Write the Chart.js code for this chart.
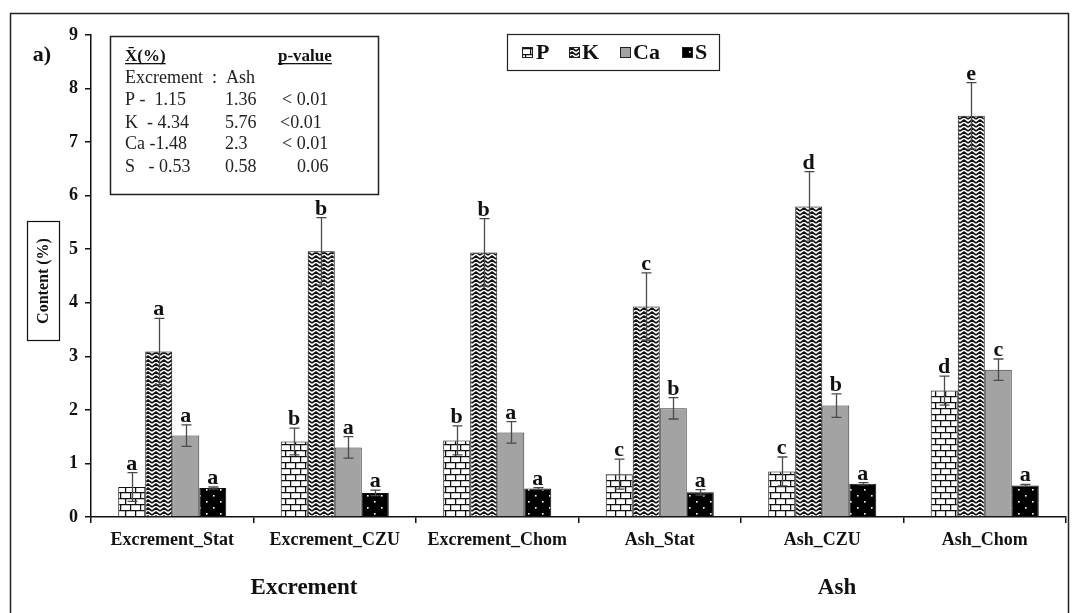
<!DOCTYPE html>
<html>
<head>
<meta charset="utf-8">
<script src="https://cdn.jsdelivr.net/npm/chart.js@4.4.1/dist/chart.umd.min.js"></script>
<style>
  html, body { margin: 0; padding: 0; background: #fff; }
  #wrap { width: 1078px; height: 613px; position: relative; }
</style>
</head>
<body>
<div id="wrap"><canvas id="c"></canvas></div>
<script>
// ---- data ----
const categories = ['Excrement_Stat', 'Excrement_CZU', 'Excrement_Chom', 'Ash_Stat', 'Ash_CZU', 'Ash_Chom'];
const seriesNames = ['P', 'K', 'Ca', 'S'];

const pValues  = [0.56, 1.41, 1.43, 0.80, 0.85, 2.36];
const kValues  = [3.09, 4.96, 4.94, 3.93, 5.80, 7.49];
const caValues = [1.52, 1.30, 1.58, 2.03, 2.08, 2.75];
const sValues  = [0.54, 0.45, 0.53, 0.46, 0.62, 0.59];

const pErr  = [0.27, 0.25, 0.27, 0.28, 0.27, 0.27];
const kErr  = [0.62, 0.63, 0.63, 0.63, 0.65, 0.62];
const caErr = [0.20, 0.20, 0.20, 0.20, 0.22, 0.20];
const sErr  = [0.02, 0.05, 0.02, 0.05, 0.02, 0.02];

const pLetters  = ['a', 'b', 'b', 'c', 'c', 'd'];
const kLetters  = ['a', 'b', 'b', 'c', 'd', 'e'];
const caLetters = ['a', 'a', 'a', 'b', 'b', 'c'];
const sLetters  = ['a', 'a', 'a', 'a', 'a', 'a'];

const yTicks = [0, 1, 2, 3, 4, 5, 6, 7, 8, 9];
const groupLabels = ['Excrement', 'Ash'];

// summary table: mean content (%) excrement vs ash and p-value
const statRowLabels = ['P -  1.15', 'K  - 4.34', 'Ca -1.48', 'S   - 0.53'];
const ashMeans      = ['1.36', '5.76', '2.3', '0.58'];
const pValueTexts   = ['< 0.01', '<0.01', '< 0.01', '0.06'];

// ---- fill patterns ----
const SERIF = '"Liberation Serif", "Times New Roman", serif';

function makeTile(w, h, draw) {
  const t = document.createElement('canvas');
  t.width = w; t.height = h;
  const g = t.getContext('2d');
  draw(g, w, h);
  return document.createElement('canvas').getContext('2d').createPattern(t, 'repeat');
}

const brickPattern = makeTile(10, 12, (g, w, h) => {
  g.fillStyle = '#fff'; g.fillRect(0, 0, w, h);
  g.strokeStyle = '#111'; g.lineWidth = 1.3;
  g.beginPath();
  g.moveTo(0, 0.6); g.lineTo(w, 0.6);
  g.moveTo(0, 6.6); g.lineTo(w, 6.6);
  g.moveTo(0.6, 0); g.lineTo(0.6, 6);
  g.moveTo(5.6, 6); g.lineTo(5.6, 12);
  g.stroke();
});

const zigzagPattern = makeTile(8, 8, (g, w, h) => {
  g.fillStyle = '#fff'; g.fillRect(0, 0, w, h);
  g.strokeStyle = '#111'; g.lineWidth = 1.6;
  g.beginPath();
  for (let y = -4; y <= 8; y += 4) {
    g.moveTo(0, y + 3); g.lineTo(4, y); g.lineTo(8, y + 3);
  }
  g.stroke();
  g.fillStyle = '#111';
  g.fillRect(3, 5, 2, 1);
});

const caFill = '#a3a3a3';

const dotPattern = makeTile(14, 12, (g, w, h) => {
  g.fillStyle = '#000'; g.fillRect(0, 0, w, h);
  g.fillStyle = '#fff';
  g.fillRect(3, 3, 1.6, 1.6);
  g.fillRect(10, 9, 1.6, 1.6);
});

const fills = [brickPattern, zigzagPattern, caFill, dotPattern];
const valueSets = [pValues, kValues, caValues, sValues];
const errSets = [pErr, kErr, caErr, sErr];
const letterSets = [pLetters, kLetters, caLetters, sLetters];

// ---- decorations: frame, error bars, letters, legend, table ----
const decor = {
  id: 'decor',
  beforeDraw(chart) {
    const ctx = chart.ctx;
    ctx.save();
    ctx.fillStyle = '#fff';
    ctx.fillRect(0, 0, chart.width, chart.height);
    ctx.restore();
  },
  afterDatasetsDraw(chart) {
    const ctx = chart.ctx;
    const y = chart.scales.y;
    ctx.save();
    // error bars
    chart.data.datasets.forEach((ds, di) => {
      const meta = chart.getDatasetMeta(di);
      meta.data.forEach((bar, i) => {
        const v = ds.data[i], e = errSets[di][i];
        const yt = y.getPixelForValue(v + e);
        const yb = y.getPixelForValue(v - e);
        const x = Math.round(bar.x) + 0.5;
        ctx.strokeStyle = '#4a4a4a';
        ctx.lineWidth = 1.3;
        ctx.beginPath();
        ctx.moveTo(x, yt); ctx.lineTo(x, yb);
        ctx.moveTo(x - 5, yt); ctx.lineTo(x + 5, yt);
        ctx.moveTo(x - 5, yb); ctx.lineTo(x + 5, yb);
        ctx.stroke();
        // significance letter
        ctx.fillStyle = '#111';
        ctx.font = 'bold 22px ' + SERIF;
        ctx.textAlign = 'center';
        ctx.textBaseline = 'alphabetic';
        ctx.fillText(letterSets[di][i], bar.x, yt - 3);
      });
    });
    ctx.restore();
  },
  afterDraw(chart) {
    const ctx = chart.ctx;
    ctx.save();
    // outer frame
    ctx.strokeStyle = '#222';
    ctx.lineWidth = 1.5;
    ctx.strokeRect(10.5, 13.5, 1058, 640);

    // panel tag
    ctx.fillStyle = '#111';
    ctx.font = 'bold 22px ' + SERIF;
    ctx.textAlign = 'center';
    ctx.textBaseline = 'middle';
    ctx.fillText('a)', 42, 55);

    // y-axis title in a box
    ctx.strokeStyle = '#111';
    ctx.lineWidth = 1.2;
    ctx.strokeRect(27.5, 221.5, 32, 119);
    ctx.save();
    ctx.translate(44, 281);
    ctx.rotate(-Math.PI / 2);
    ctx.font = 'bold 16px ' + SERIF;
    ctx.fillText('Content (%)', 0, 0);
    ctx.restore();

    // group labels under the categories
    ctx.font = 'bold 23px ' + SERIF;
    ctx.fillText(groupLabels[0], 304, 588);
    ctx.fillText(groupLabels[1], 837, 588);

    // legend
    ctx.strokeStyle = '#222';
    ctx.lineWidth = 1.2;
    ctx.strokeRect(507.5, 34.5, 212, 36);
    const legendX = [[522, 536], [569, 582], [620, 633], [682, 695]];
    ctx.textAlign = 'left';
    ctx.font = 'bold 22px ' + SERIF;
    seriesNames.forEach((name, i) => {
      const [bx, tx] = legendX[i];
      ctx.fillStyle = fills[i];
      ctx.fillRect(bx, 47, 11, 11);
      ctx.strokeStyle = '#222';
      ctx.lineWidth = 1;
      ctx.strokeRect(bx + 0.5, 47.5, 10, 10);
      ctx.fillStyle = '#111';
      ctx.fillText(name, tx, 53);
    });

    // summary table
    ctx.strokeStyle = '#222';
    ctx.lineWidth = 1.5;
    ctx.strokeRect(110.5, 36.5, 268, 158);
    ctx.fillStyle = '#111';
    ctx.textBaseline = 'alphabetic';
    ctx.font = 'bold 17px ' + SERIF;
    ctx.fillText('X\u0304(%)', 125, 61);
    let w = ctx.measureText('X\u0304(%)').width;
    ctx.fillRect(125, 63, w, 1.3);
    ctx.fillText('p-value', 278, 61);
    w = ctx.measureText('p-value').width;
    ctx.fillRect(278, 63, w, 1.3);

    ctx.font = '18px ' + SERIF;
    ctx.fillStyle = '#222';
    ctx.fillText('Excrement  :  Ash', 125, 83);
    const rowY = [105, 128, 149, 172];
    const col3 = [282, 280, 282, 297];
    statRowLabels.forEach((lab, i) => {
      ctx.fillText(lab, 125, rowY[i]);
      ctx.fillText(ashMeans[i], 225, rowY[i]);
      ctx.fillText(pValueTexts[i], col3[i], rowY[i]);
    });
    ctx.restore();
  }
};

const datasets = seriesNames.map((name, i) => ({
  label: name,
  data: valueSets[i],
  backgroundColor: fills[i],
  borderColor: i === 2 ? '#333' : '#111',
  borderWidth: 1,
  borderSkipped: 'bottom',
  categoryPercentage: 0.665,
  barPercentage: 1.0
}));

new Chart(document.getElementById('c'), {
  type: 'bar',
  data: { labels: categories, datasets },
  options: {
    responsive: true,
    maintainAspectRatio: false,
    animation: false,
    devicePixelRatio: 1,
    layout: { padding: { top: 35, right: 12, left: 0, bottom: 0 } },
    plugins: { legend: { display: false }, tooltip: { enabled: false } },
    scales: {
      x: {
        offset: true,
        grid: { offset: true, drawOnChartArea: false, drawTicks: true, tickLength: 6, color: '#111', lineWidth: 1.5 },
        border: { color: '#111', width: 1.5 },
        ticks: { color: '#111', padding: 7, maxRotation: 0, autoSkip: false,
                 font: { family: SERIF, size: 18, weight: 'bold' } },
        afterFit(scale) { scale.height = 96; }
      },
      y: {
        min: 0, max: 9,
        afterBuildTicks(scale) { scale.ticks = yTicks.map(v => ({ value: v })); },
        grid: { drawOnChartArea: false, drawTicks: true, tickLength: 6, color: '#111', lineWidth: 1.5 },
        border: { color: '#111', width: 1.5 },
        ticks: { color: '#111', padding: 7,
                 font: { family: SERIF, size: 18, weight: 'bold' } },
        afterFit(scale) { scale.width = 91; }
      }
    }
  },
  plugins: [decor]
});
</script>
</body>
</html>
